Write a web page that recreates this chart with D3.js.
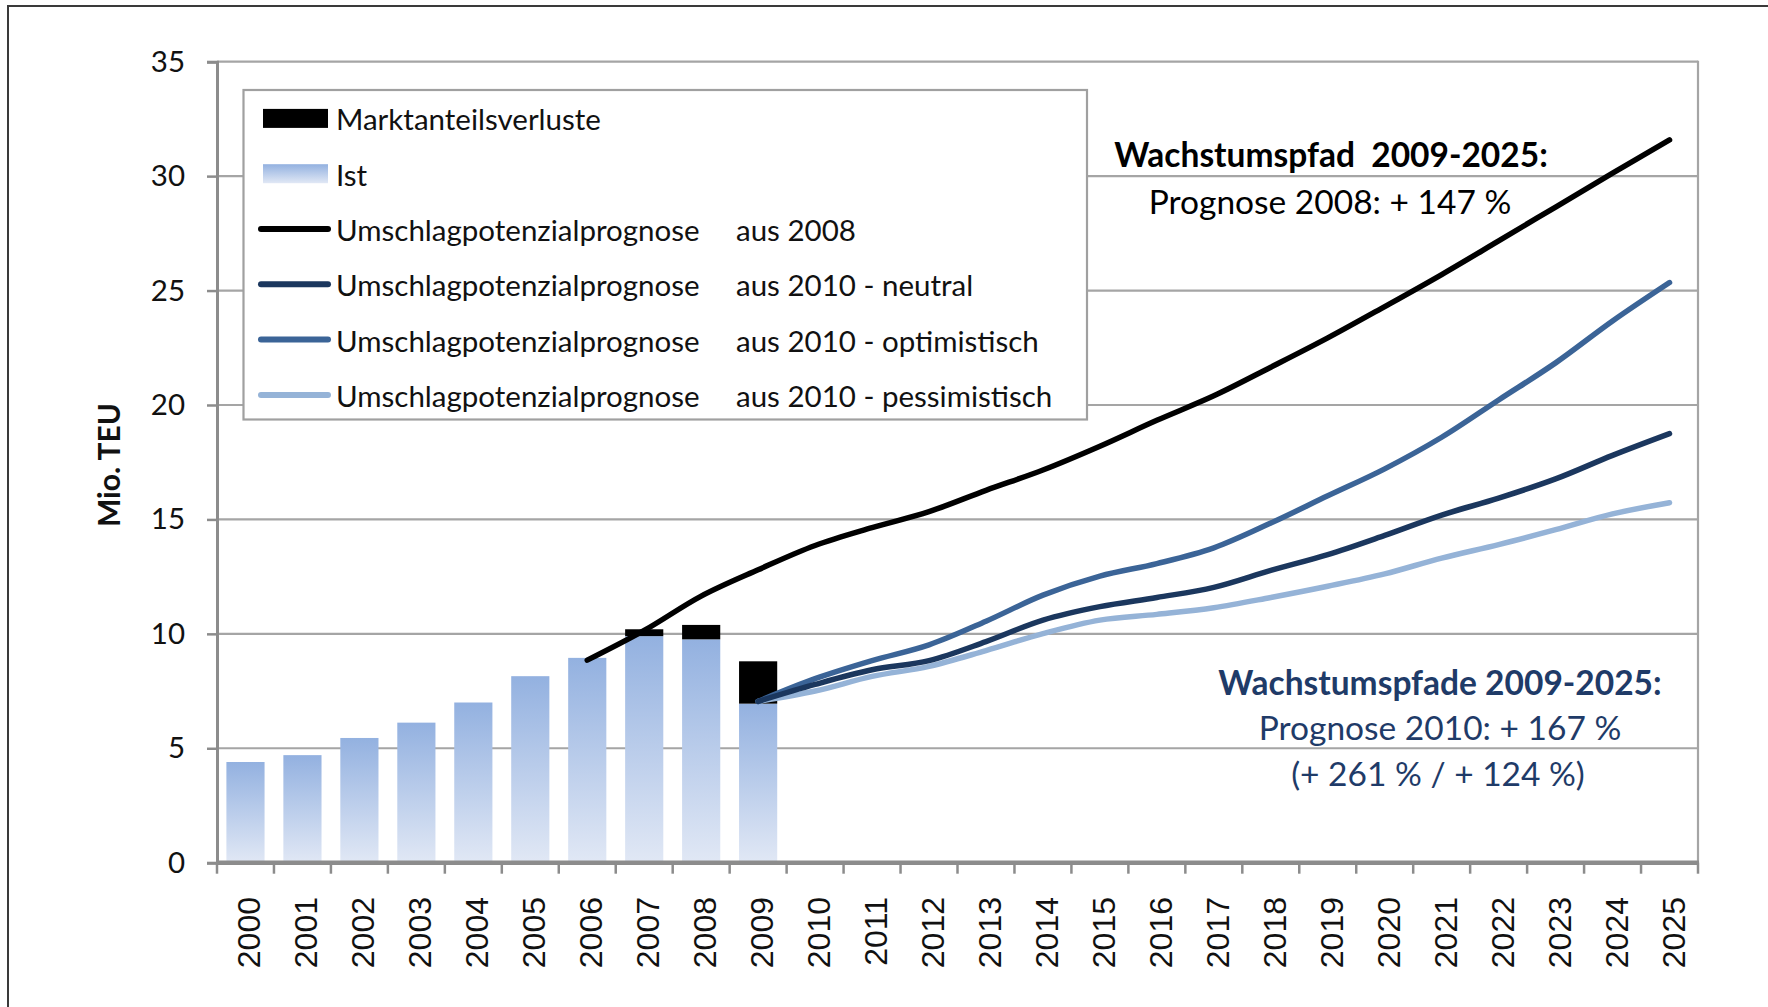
<!DOCTYPE html>
<html>
<head>
<meta charset="utf-8">
<script src="https://cdn.jsdelivr.net/npm/d3@7"></script>
<style>
body{margin:0;background:#fff;}
svg{display:block;}
text{font-family:Lato,"Open Sans",sans-serif;}
</style>
</head>
<body>
<svg></svg>
<script>
// categories
const years = ["2000","2001","2002","2003","2004","2005","2006","2007","2008","2009","2010","2011","2012",
  "2013","2014","2015","2016","2017","2018","2019","2020","2021","2022","2023","2024","2025"];

// Ist (bars) and Marktanteilsverluste (black on top)
const istYears = ["2000","2001","2002","2003","2004","2005","2006","2007","2008","2009"];
const istValues = [4.4, 4.7, 5.45, 6.12, 7.0, 8.15, 8.95, 9.9, 9.76, 6.95];
const lossValues = [0, 0, 0, 0, 0, 0, 0, 0.3, 0.63, 1.85];

// forecast 2008
const prog2008Years = ["2006","2007","2008","2009","2010","2011","2012","2013","2014","2015","2016",
  "2017","2018","2019","2020","2021","2022","2023","2024","2025"];
const prog2008 = [8.85, 10.15, 11.65, 12.8, 13.86, 14.64, 15.34, 16.27, 17.16, 18.2, 19.33,
  20.4, 21.65, 22.93, 24.3, 25.7, 27.17, 28.65, 30.13, 31.58];

// forecasts 2010
const prog2010Years = ["2009","2010","2011","2012","2013","2014","2015","2016","2017",
  "2018","2019","2020","2021","2022","2023","2024","2025"];
const neutral = [7.05, 7.79, 8.43, 8.83, 9.66, 10.6, 11.19, 11.59, 12.03,
  12.77, 13.46, 14.3, 15.19, 15.93, 16.77, 17.8, 18.75];
const optimistisch = [7.05, 8.04, 8.83, 9.52, 10.55, 11.69, 12.52, 13.07, 13.76,
  14.84, 16.03, 17.21, 18.59, 20.22, 21.84, 23.67, 25.35];
const pessimistisch = [7.05, 7.5, 8.14, 8.58, 9.27, 10.01, 10.6, 10.85, 11.14,
  11.59, 12.08, 12.62, 13.31, 13.9, 14.55, 15.24, 15.73];

const yTicks = [0, 5, 10, 15, 20, 25, 30, 35];

// legend: [first part, part after tab]
const legendLabels = [["Marktanteilsverluste", ""], ["Ist", ""],
  ["Umschlagpotenzialprognose", "aus 2008"],
  ["Umschlagpotenzialprognose", "aus 2010 - neutral"],
  ["Umschlagpotenzialprognose", "aus 2010 - optimistisch"],
  ["Umschlagpotenzialprognose", "aus 2010 - pessimistisch"]];

const W = 1768, H = 1007;
const plotLeft = 217, plotRight = 1698, plotTop = 61.7, plotBottom = 862.7;

const svg = d3.select("svg").attr("width", W).attr("height", H);

const defs = svg.append("defs");
const grad = defs.append("linearGradient").attr("id", "istGrad")
  .attr("x1", 0).attr("y1", 0).attr("x2", 0).attr("y2", 1);
grad.append("stop").attr("offset", "0%").attr("stop-color", "#93b1e0");
grad.append("stop").attr("offset", "100%").attr("stop-color", "#e1e8f5");

// outer frame (top + left)
svg.append("path").attr("d", "M8,1007 V6 H1768")
  .attr("fill", "none").attr("stroke", "#3a3a3a").attr("stroke-width", 2);

const x = d3.scaleBand().domain(years).range([plotLeft, plotRight]).paddingInner(0.33).paddingOuter(0.165);
const xc = d => x(d) + x.bandwidth() / 2;
const y = d3.scaleLinear().domain([0, 35]).range([plotBottom, plotTop]);

// gridlines
svg.append("g").selectAll("line").data(yTicks.slice(1)).enter().append("line")
  .attr("x1", plotLeft).attr("x2", plotRight)
  .attr("y1", d => y(d)).attr("y2", d => y(d))
  .attr("stroke", "#a5a5a5").attr("stroke-width", 2.2);
// right border
svg.append("line").attr("x1", plotRight).attr("x2", plotRight).attr("y1", y(35) - 1).attr("y2", plotBottom)
  .attr("stroke", "#a5a5a5").attr("stroke-width", 2.2);

// y axis
const yAxis = svg.append("g").attr("transform", "translate(" + plotLeft + ",0)")
  .call(d3.axisLeft(y).tickValues(yTicks).tickSize(10).tickPadding(22));
yAxis.select(".domain").attr("stroke", "#8c8c8c").attr("stroke-width", 3);
yAxis.selectAll(".tick line").attr("stroke", "#8c8c8c").attr("stroke-width", 2.5);
yAxis.selectAll(".tick text").style("font-family", "Lato").style("font-size", "29.5px").attr("fill", "#111");

svg.append("text").text("Mio. TEU")
  .attr("transform", "translate(108,465) rotate(-90)")
  .attr("text-anchor", "middle").attr("dominant-baseline", "central")
  .style("font-size", "30px").style("font-weight", "bold").attr("fill", "#111");

// bars
const bars = svg.append("g");
bars.selectAll("rect.ist").data(istYears).enter().append("rect").attr("class", "ist")
  .attr("x", d => x(d)).attr("width", x.bandwidth())
  .attr("y", (d, i) => y(istValues[i]))
  .attr("height", (d, i) => plotBottom - y(istValues[i]))
  .attr("fill", "url(#istGrad)");
bars.selectAll("rect.loss").data(istYears).enter().append("rect").attr("class", "loss")
  .attr("x", d => x(d)).attr("width", x.bandwidth())
  .attr("y", (d, i) => y(istValues[i] + lossValues[i]))
  .attr("height", (d, i) => y(istValues[i]) - y(istValues[i] + lossValues[i]))
  .attr("fill", "#000");

// x axis
const xAxis = svg.append("g");
xAxis.append("line").attr("x1", plotLeft - 1).attr("x2", plotRight + 1).attr("y1", plotBottom).attr("y2", plotBottom)
  .attr("stroke", "#8c8c8c").attr("stroke-width", 4.5);
const tickXs = years.map(d => x(d) - x.step() * x.paddingInner() / 2);
tickXs.push(plotRight);
xAxis.selectAll("line.t").data(tickXs).enter().append("line").attr("class", "t")
  .attr("x1", d => d).attr("x2", d => d).attr("y1", plotBottom).attr("y2", plotBottom + 11)
  .attr("stroke", "#8c8c8c").attr("stroke-width", 2.5);
xAxis.selectAll("text").data(years).enter().append("text")
  .text(d => d)
  .attr("transform", d => "translate(" + (xc(d) + 4) + ",897) rotate(-90)")
  .attr("text-anchor", "end").attr("dominant-baseline", "central")
  .style("font-family", "'Liberation Sans', Arial, sans-serif").style("font-size", "32px").attr("fill", "#111");

// lines
const line = d3.line().curve(d3.curveCatmullRom.alpha(0.5));
function drawLine(cats, vals, color) {
  svg.append("path")
    .attr("d", line(cats.map((c, i) => [xc(c), y(vals[i])])))
    .attr("fill", "none").attr("stroke", color).attr("stroke-width", 5.5)
    .attr("stroke-linecap", "round").attr("stroke-linejoin", "round");
}
drawLine(prog2008Years, prog2008, "#000");
drawLine(prog2010Years, pessimistisch, "#95b3d7");
drawLine(prog2010Years, optimistisch, "#3b6497");
drawLine(prog2010Years, neutral, "#1b375e");

// legend
const lg = svg.append("g");
lg.append("rect").attr("x", 243.5).attr("y", 90).attr("width", 843.5).attr("height", 329.5)
  .attr("fill", "#fff").attr("stroke", "#a0a0a0").attr("stroke-width", 2.2);
const rowY = i => 118.4 + i * 55.3;
lg.append("rect").attr("x", 263).attr("y", rowY(0) - 9.5).attr("width", 65).attr("height", 19).attr("fill", "#000");
lg.append("rect").attr("x", 263).attr("y", rowY(1) - 9.5).attr("width", 65).attr("height", 19).attr("fill", "url(#istGrad)");
const lineColors = ["#000", "#1b375e", "#3b6497", "#95b3d7"];
lineColors.forEach((c, k) => {
  lg.append("line").attr("x1", 261).attr("x2", 328).attr("y1", rowY(k + 2)).attr("y2", rowY(k + 2))
    .attr("stroke", c).attr("stroke-width", 6).attr("stroke-linecap", "round");
});
const lt = lg.selectAll("text").data(legendLabels).enter().append("text")
  .attr("y", (d, i) => rowY(i))
  .attr("dominant-baseline", "central")
  .style("font-size", "29.5px").attr("fill", "#111");
lt.append("tspan").attr("x", 336).text(d => d[0]);
lt.append("tspan").attr("x", 736).text(d => d[1]);

// annotations
function note(t, cx, cy, bold, color) {
  svg.append("text").text(t).attr("x", cx).attr("y", cy)
    .attr("text-anchor", "middle").attr("dominant-baseline", "central")
    .style("white-space", "pre").style("font-size", "33.5px")
    .style("font-weight", bold ? "bold" : "normal").attr("fill", color);
}
note("Wachstumspfad  2009-2025:", 1331, 154, true, "#000");
note("Prognose 2008: + 147 %", 1330, 201, false, "#000");
note("Wachstumspfade 2009-2025:", 1440, 682, true, "#1f3b68");
note("Prognose 2010: + 167 %", 1440, 727, false, "#1f3b68");
note("(+ 261 % / + 124 %)", 1438, 773, false, "#1f3b68");
</script>
</body>
</html>
